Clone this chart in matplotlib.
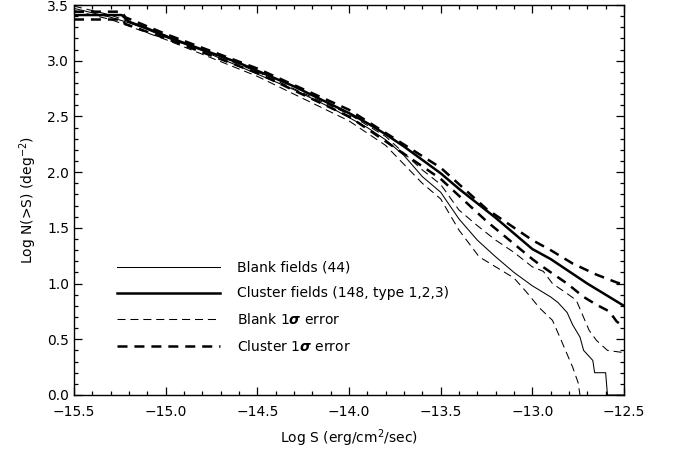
import numpy as np
import matplotlib
matplotlib.use("Agg")
import matplotlib.pyplot as plt
from matplotlib.ticker import MultipleLocator

plt.rcParams['font.family'] = ['DejaVu Sans']
plt.rcParams['lines.scale_dashes'] = False

# log N(>S) curves, blank fields
blank_s = [-15.5, -15.4, -15.3, -15.2, -15.1, -15.0, -14.9, -14.8, -14.7, -14.6,
           -14.5, -14.4, -14.3, -14.2, -14.1, -14.0, -13.9, -13.8, -13.7, -13.6,
           -13.5, -13.4, -13.3, -13.2, -13.1, -13.0, -12.9, -12.86, -12.81, -12.78,
           -12.74, -12.72, -12.67, -12.66, -12.60, -12.59, -12.5]
blank_n = [3.47, 3.43, 3.39, 3.34, 3.28, 3.21, 3.15, 3.09, 3.02, 2.95,
           2.88, 2.81, 2.74, 2.66, 2.58, 2.49, 2.40, 2.29, 2.15, 1.96,
           1.82, 1.58, 1.39, 1.24, 1.10, 0.98, 0.88, 0.83, 0.74, 0.63,
           0.52, 0.40, 0.31, 0.20, 0.20, 0.0, 0.0]

blank_hi_s = [-15.5, -15.3, -15.0, -14.5, -14.0, -13.8, -13.6, -13.5, -13.4, -13.3,
              -13.2, -13.1, -13.0, -12.94, -12.89, -12.81, -12.76, -12.69, -12.65,
              -12.59, -12.5]
blank_hi_n = [3.49, 3.41, 3.23, 2.90, 2.52, 2.32, 2.02, 1.89, 1.66, 1.52,
              1.39, 1.28, 1.15, 1.11, 1.00, 0.91, 0.85, 0.58, 0.49,
              0.40, 0.38]

blank_lo_s = [-15.5, -15.3, -15.0, -14.5, -14.0, -13.8, -13.6, -13.5, -13.4, -13.29,
              -13.2, -13.1, -13.03, -12.96, -12.89, -12.85, -12.78, -12.75, -12.74]
blank_lo_n = [3.45, 3.37, 3.19, 2.86, 2.46, 2.24, 1.90, 1.76, 1.48, 1.24,
              1.15, 1.05, 0.92, 0.78, 0.67, 0.52, 0.25, 0.11, 0.0]

# cluster fields
clus_s = [-15.5, -15.24, -15.2, -15.1, -15.0, -14.9, -14.8, -14.7, -14.6, -14.5,
          -14.4, -14.3, -14.2, -14.1, -14.0, -13.9, -13.8, -13.7, -13.6, -13.5,
          -13.4, -13.3, -13.2, -13.1, -13.0, -12.9, -12.8, -12.7, -12.6, -12.5]
clus_n = [3.41, 3.41, 3.35, 3.29, 3.22, 3.16, 3.10, 3.04, 2.98, 2.91,
          2.84, 2.77, 2.69, 2.61, 2.53, 2.44, 2.34, 2.23, 2.11, 1.99,
          1.85, 1.72, 1.59, 1.45, 1.31, 1.22, 1.11, 1.00, 0.90, 0.80]

clus_hi_s = [-15.5, -15.24, -15.22, -15.0, -14.5, -14.0, -13.5, -13.25, -13.0, -12.9,
             -12.78, -12.65, -12.54, -12.5]
clus_hi_n = [3.44, 3.44, 3.39, 3.24, 2.93, 2.56, 2.04, 1.67, 1.39, 1.30,
             1.18, 1.08, 1.01, 0.99]

clus_lo_s = [-15.5, -15.24, -15.22, -15.0, -14.5, -14.0, -13.5, -13.25, -13.0, -12.96,
             -12.89, -12.81, -12.72, -12.65, -12.58, -12.54, -12.5]
clus_lo_n = [3.37, 3.37, 3.33, 3.20, 2.89, 2.50, 1.94, 1.56, 1.22, 1.17,
             1.09, 1.00, 0.88, 0.81, 0.75, 0.66, 0.61]

thin_dash = (0, (5.8, 3.5))
thick_dash = (0, (7.2, 5.0))

fig = plt.figure(figsize=(6.75, 4.51), dpi=100)
ax = fig.add_axes([0.1096, 0.1242, 0.9244 - 0.1096, 0.9889 - 0.1242])

ax.plot(blank_s, blank_n, color='black', lw=0.75, label='Blank fields (44)')
ax.plot(clus_s, clus_n, color='black', lw=1.8, label='Cluster fields (148, type 1,2,3)')
ax.plot(blank_hi_s, blank_hi_n, color='black', lw=0.75, ls=thin_dash,
        label=r'Blank 1$\boldsymbol{\sigma}$ error')
ax.plot(blank_lo_s, blank_lo_n, color='black', lw=0.75, ls=thin_dash)
ax.plot(clus_hi_s, clus_hi_n, color='black', lw=1.8, ls=thick_dash,
        label=r'Cluster 1$\boldsymbol{\sigma}$ error')
ax.plot(clus_lo_s, clus_lo_n, color='black', lw=1.8, ls=thick_dash)

ax.set_xlim(-15.5, -12.5)
ax.set_ylim(0.0, 3.5)
ax.xaxis.set_major_locator(MultipleLocator(0.5))
ax.xaxis.set_minor_locator(MultipleLocator(0.1))
ax.yaxis.set_major_locator(MultipleLocator(0.5))
ax.yaxis.set_minor_locator(MultipleLocator(0.1))
ax.xaxis.set_major_formatter(plt.FuncFormatter(lambda v, p: f"{v:.1f}".replace('-', '\u2212')))
ax.yaxis.set_major_formatter(plt.FuncFormatter(lambda v, p: f"{v:.1f}"))
ax.tick_params(which='both', direction='in', top=True, right=True, labelsize=10, width=0.9)
ax.tick_params(which='major', length=6)
ax.tick_params(which='minor', length=3)
ax.tick_params(axis='x', pad=7)
for sp in ax.spines.values():
    sp.set_linewidth(1.0)

ax.set_xlabel('Log S (erg/cm$^2$/sec)', fontsize=10, labelpad=6)
ax.set_ylabel('Log N(>S) (deg$^{-2}$)', fontsize=10, labelpad=6)

ax.legend(loc='upper left', bbox_to_anchor=(0.066, 0.362), frameon=False, fontsize=10,
          handlelength=7.4, handletextpad=1.25, labelspacing=0.84, borderpad=0)

fig.savefig('out.png', dpi=100)
